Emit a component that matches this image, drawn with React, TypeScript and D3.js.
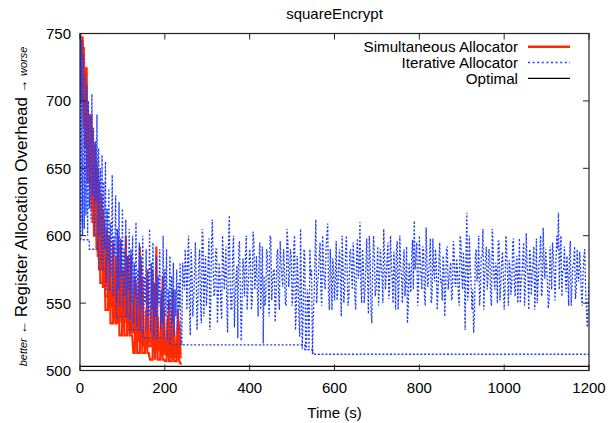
import React from "react";
import * as d3 from "d3";

const TITLE = "squareEncrypt";
const X_TICKS = [0, 200, 400, 600, 800, 1000, 1200];
const Y_TICKS = [500, 550, 600, 650, 700, 750];
const LEGEND = ["Simultaneous Allocator", "Iterative Allocator", "Optimal"];
const OPTIMAL = 503;

// Simultaneous allocator runs, sampled every 3 s from 0 to 240 s
const RED_STEP = 3;
const RED_RUN_1 = [
  750, 700, 745, 690, 690, 725, 650, 650, 690, 620, 620, 620, 668, 590, 590, 640, 565, 565, 565, 612,
  545, 545, 545, 590, 535, 535, 535, 568, 535, 535, 600, 526, 526, 526, 575, 526, 526, 526, 585, 526,
  526, 526, 513, 513, 560, 513, 513, 513, 578, 513, 513, 513, 545, 513, 513, 508, 508, 508, 565, 508,
  592, 508, 508, 508, 555, 508, 508, 507, 507, 540, 507, 507, 507, 552, 507, 507, 507, 536, 507, 505, 505,
];
const RED_RUN_2 = [
  750, 705, 705, 740, 665, 665, 700, 665, 635, 635, 680, 600, 600, 600, 650, 575, 575, 575, 620, 575,
  555, 555, 555, 600, 555, 555, 540, 540, 585, 540, 540, 540, 595, 540, 540, 540, 575, 530, 530, 530,
  585, 530, 530, 530, 565, 530, 522, 522, 522, 569, 522, 522, 522, 575, 522, 522, 522, 548, 515, 515,
  515, 540, 515, 515, 515, 570, 515, 515, 515, 538, 510, 510, 510, 560, 510, 510, 510, 545, 510, 510, 510,
];
const RED_RUN_3 = [
  750, 712, 748, 680, 680, 725, 640, 640, 640, 690, 610, 610, 610, 655, 585, 585, 585, 630, 562, 562,
  562, 605, 562, 548, 548, 548, 595, 548, 548, 548, 536, 536, 580, 536, 536, 536, 600, 536, 536, 536,
  528, 528, 528, 570, 528, 528, 528, 592, 528, 528, 518, 518, 518, 555, 518, 518, 518, 575, 518, 518,
  518, 535, 518, 518, 512, 512, 545, 512, 512, 512, 552, 512, 512, 512, 530, 512, 512, 512, 536, 512, 512,
];

// Iterative allocator: early part every 2 s (0..240)
const BLUE_EARLY_STEP = 2;
const BLUE_EARLY = [
  750, 610, 745, 600, 735, 605, 720, 615, 712, 600, 700, 620, 690, 610, 705, 630, 680, 600, 670, 625,
  690, 590, 665, 600, 650, 580, 660, 575, 640, 590, 655, 565, 620, 580, 635, 560, 610, 570, 645, 555,
  600, 585, 630, 550, 605, 560, 625, 548, 598, 570, 620, 545, 590, 555, 612, 540, 585, 560, 605, 538,
  590, 550, 600, 535, 580, 555, 610, 532, 575, 548, 595, 530, 585, 545, 600, 528, 570, 550, 590, 530,
  575, 540, 605, 528, 580, 545, 595, 525, 565, 540, 585, 524, 570, 548, 590, 530, 560, 535, 600, 525,
  575, 540, 590, 522, 560, 545, 585, 524, 570, 535, 580, 525, 560, 540, 575, 528, 565, 545, 580, 522, 519,
];
// later part: samples at 244, 248, ... 1200
const BLUE_LATE_A_START = 244;
const BLUE_LATE_A = [
  568, 590, 545, 600, 526, 575, 555, 595, 530, 580, 550, 605, 540, 585, 560, 598, 545, 612, 555, 590,
  535, 580, 548, 600, 560, 592, 528, 615, 545, 588, 532, 570, 524, 596, 522, 583, 555, 600, 560, 590,
  545, 603, 560, 585, 540, 595, 565, 520, 548, 590, 562, 600, 552, 575, 536, 585, 558, 596, 570, 590,
  550, 605, 562, 590, 548, 592, 530, 585, 540, 605, 516, 590, 515, 560, 515, 570, 512, 555, 612, 565,
  585, 558, 600, 565, 590, 609, 545, 570, 583, 552, 596, 560, 590, 540, 578, 560, 600, 548, 588, 572,
  595, 555, 585, 568, 610, 550, 580, 560, 598, 542, 586, 535, 600, 555, 575, 548, 590, 570, 605, 560,
  583, 553, 600, 568, 588, 545, 596, 562, 578, 550, 590, 565, 535, 580, 558, 597, 611, 585, 548, 600,
  570, 592, 555, 606, 562, 584, 550, 598, 566, 580, 557, 595, 568, 585, 540, 590, 560, 575, 552, 596,
  565, 583, 555, 600, 570, 588, 530, 617, 560, 578, 545, 528, 585, 566, 600, 558, 585, 545, 583, 560,
  590, 555, 605, 568, 580, 550, 596, 562, 588, 545, 600, 570, 582, 556, 594, 563, 578, 550, 598, 566,
  585, 548, 602, 570, 590, 556, 580, 545, 598, 565, 585, 555, 606, 568, 578, 546, 592, 560, 584, 552,
  600, 617, 588, 555, 575, 570, 585, 548, 596, 562, 580, 553, 590, 566, 577, 548, 585, 560, 532, 565,
];
// later part: samples at 242, 246, ... 1198
const BLUE_LATE_B_START = 242;
const BLUE_LATE_B = [
  580, 560, 575, 585, 548, 590, 540, 570, 565, 552, 590, 535, 600, 570, 548, 580, 530, 595, 575, 560,
  590, 555, 570, 538, 585, 572, 550, 595, 565, 545, 600, 555, 578, 590, 560, 548, 575, 585, 545, 572,
  582, 550, 596, 570, 560, 580, 545, 592, 570, 555, 585, 540, 598, 565, 575, 550, 590, 545, 580, 562,
  575, 548, 596, 570, 585, 555, 600, 545, 570, 525, 560, 540, 585, 518, 552, 590, 575, 540, 585, 550,
  570, 595, 548, 580, 560, 600, 555, 590, 545, 575, 568, 552, 580, 565, 600, 550, 588, 572, 555, 590,
  560, 580, 545, 598, 575, 565, 590, 550, 578, 568, 600, 545, 575, 588, 560, 592, 565, 580, 550, 585,
  570, 595, 560, 580, 550, 575, 590, 545, 600, 568, 578, 555, 592, 548, 570, 585, 560, 575, 595, 558,
  585, 560, 590, 548, 580, 570, 598, 555, 575, 590, 545, 580, 565, 552, 575, 560, 592, 568, 580, 555,
  590, 562, 575, 548, 596, 560, 570, 585, 552, 600, 565, 560, 540, 590, 572, 548, 585, 605, 570, 592,
  568, 585, 548, 590, 560, 575, 596, 552, 580, 570, 560, 590, 548, 575, 565, 598, 555, 585, 570, 550,
  570, 595, 560, 578, 545, 585, 570, 592, 560, 550, 578, 600, 558, 580, 590, 565, 552, 578, 595, 570,
  580, 590, 560, 600, 575, 592, 558, 570, 585, 548, 578, 592, 560, 570, 588, 555, 572, 590, 545, 548,
];
const BLUE_LATE_STEP = 4;
// Iterative allocator best-so-far staircase
const BLUE_BEST_T = [0, 2, 22, 44, 62, 86, 118, 148, 212, 530, 549, 1200];
const BLUE_BEST_V = [750, 597, 590, 575, 560, 540, 530, 524, 519, 515.5, 512, 512];

const W = 615;
const H = 423;
const FONT = "'Liberation Sans', Arial, Helvetica, sans-serif";
const RED = "#ff2a00";
const BLUE = "#1f3dff";
const FS = 15;

export default function App() {
  const x = d3.scaleLinear().domain([0, 1200]).range([80, 589]);
  const y = d3.scaleLinear().domain([500, 750]).range([370.5, 33.5]);
  const line = d3
    .line<[number, number]>()
    .x((d) => x(d[0]))
    .y((d) => y(d[1]));
  const stepLine = d3
    .line<[number, number]>()
    .x((d) => x(d[0]))
    .y((d) => y(d[1]))
    .curve(d3.curveStepAfter);

  const redRuns = [RED_RUN_1, RED_RUN_2, RED_RUN_3].map((run) =>
    run.map((v, i) => [i * RED_STEP, v] as [number, number])
  );
  const late: [number, number][] = [
    ...BLUE_LATE_A.map((v, i) => [BLUE_LATE_A_START + i * BLUE_LATE_STEP, v] as [number, number]),
    ...BLUE_LATE_B.map((v, i) => [BLUE_LATE_B_START + i * BLUE_LATE_STEP, v] as [number, number]),
  ].sort((a, b) => a[0] - b[0]);
  const blue: [number, number][] = [
    ...BLUE_EARLY.map((v, i) => [i * BLUE_EARLY_STEP, v] as [number, number]),
    ...late,
  ];
  const best = BLUE_BEST_T.map((t, i) => [t, BLUE_BEST_V[i]] as [number, number]);

  const [x0, x1] = x.range();
  const [yb, yt] = y.range();
  const tickLen = 6;
  const plotCx = (x0 + x1) / 2;

  return (
    <svg
      width={W}
      height={H}
      style={{ position: "absolute", left: 0, top: 0, background: "#fff" }}
      fontFamily={FONT}
    >
      <defs>
        <clipPath id="plot">
          <rect x={x0} y={yt} width={x1 - x0} height={yb - yt} />
        </clipPath>
      </defs>
      <text x={plotCx} y={19} textAnchor="middle" fontSize={15}>
        {TITLE}
      </text>

      <g clipPath="url(#plot)">
        {redRuns.map((r, i) => (
          <path key={i} d={line(r) || ""} fill="none" stroke={RED} strokeWidth={2.2} />
        ))}
        <path d={line(blue) || ""} fill="none" stroke={BLUE} strokeWidth={1.3} strokeDasharray="2,1.8" />
        <path d={stepLine(best) || ""} fill="none" stroke={BLUE} strokeWidth={1.4} strokeDasharray="2,1.8" />
        <line x1={x(0)} x2={x(1200)} y1={y(OPTIMAL)} y2={y(OPTIMAL)} stroke="#000" strokeWidth={1.2} />
      </g>

      <rect x={x0} y={yt} width={x1 - x0} height={yb - yt} fill="none" stroke="#222" strokeWidth={1.2} />
      {X_TICKS.map((t) => (
        <g key={"x" + t}>
          <line x1={x(t)} x2={x(t)} y1={yb} y2={yb - tickLen} stroke="#222" />
          <line x1={x(t)} x2={x(t)} y1={yt} y2={yt + tickLen} stroke="#222" />
          <text x={x(t)} y={393} textAnchor="middle" fontSize={FS}>
            {t}
          </text>
        </g>
      ))}
      {Y_TICKS.map((t) => (
        <g key={"y" + t}>
          <line x1={x0} x2={x0 + tickLen} y1={y(t)} y2={y(t)} stroke="#222" />
          <line x1={x1} x2={x1 - tickLen} y1={y(t)} y2={y(t)} stroke="#222" />
          <text x={71} y={y(t) + 5.5} textAnchor="end" fontSize={FS}>
            {t}
          </text>
        </g>
      ))}

      <text x={plotCx} y={418} textAnchor="middle" fontSize={FS}>
        Time (s)
      </text>
      <text transform="translate(26.5,206.5) rotate(-90)" textAnchor="middle" fontSize={17}>
        <tspan fontSize={11} fontStyle="italic">better</tspan>
        <tspan fontSize={13.5}> ← </tspan>
        <tspan>Register Allocation Overhead</tspan>
        <tspan fontSize={13.5}> → </tspan>
        <tspan fontSize={11} fontStyle="italic">worse</tspan>
      </text>

      {LEGEND.map((name, i) => {
        const ly = 46.7 + i * 15.8;
        return (
          <g key={name}>
            <text x={518} y={ly + 5.3} textAnchor="end" fontSize={15.2}>
              {name}
            </text>
            {i === 0 && <line x1={528} x2={570} y1={ly} y2={ly} stroke={RED} strokeWidth={2.6} />}
            {i === 1 && (
              <line x1={528} x2={570} y1={ly} y2={ly} stroke={BLUE} strokeWidth={1.6} strokeDasharray="2,2.6" />
            )}
            {i === 2 && <line x1={528} x2={570} y1={ly} y2={ly} stroke="#000" strokeWidth={1.2} />}
          </g>
        );
      })}
    </svg>
  );
}
